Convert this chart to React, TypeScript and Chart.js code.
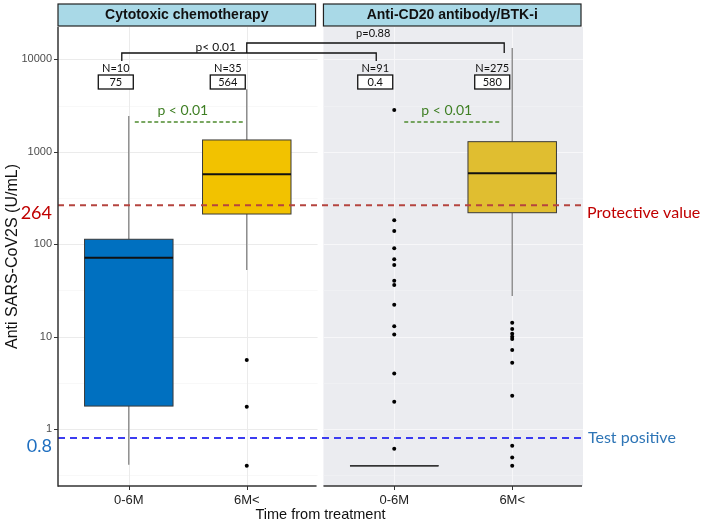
import React, { useEffect, useRef } from "react";
import { Chart, registerables } from "chart.js";

Chart.register(...registerables);

// ---------- data ----------
const PANELS = ["Cytotoxic chemotherapy", "Anti-CD20 antibody/BTK-i"];
const CATEGORIES = ["0-6M", "6M<"];
const Y_TICKS = [1, 10, 100, 1000, 10000];
const Y_MIN = 0.2415;
const Y_MAX = 22400;

// group order: chemo 0-6M, chemo 6M<, anti-CD20 0-6M, anti-CD20 6M<
const WHISKER_LOW = [0.41, 52.6, 0.4, 27.5];
const Q1 = [1.77, 212, 0.4, 219];
const MEDIAN = [71.4, 571, 0.4, 585];
const Q3 = [113, 1342, 0.4, 1286];
const WHISKER_HIGH = [2440, 4750, 0.4, 13300];

const OUTLIERS_CHEMO_EARLY: number[] = [];
const OUTLIERS_CHEMO_LATE = [5.58, 1.74, 0.4];
const OUTLIERS_CD20_EARLY = [2830, 181, 139, 90.3, 68.7, 59.6, 40.3, 36.2, 22.1, 12.9, 10.5, 3.99, 1.97, 0.61];
const OUTLIERS_CD20_LATE = [14.1, 12.1, 10.7, 9.97, 9.42, 7.16, 5.22, 2.29, 0.66, 0.49, 0.4];

const N_LABELS = ["N=10", "N=35", "N=91", "N=275"];
const MEDIAN_LABELS = ["75", "564", "0.4", "580"];
const BETWEEN_P = ["p< 0.01", "p=0.88"];
const WITHIN_P = ["p < 0.01", "p < 0.01"];
const PROTECTIVE_VALUE = 264;
const TEST_POSITIVE = 0.8;
const PROTECTIVE_TEXT = "Protective value";
const TEST_TEXT = "Test positive";

// ---------- styling ----------
const BOX_COLORS = ["#0070C0", "#F2C200", "#0070C0", "#E0BE30"];
const PANEL_SPAN = 2.25;
const groupX = (i: number) => Math.floor(i / 2) * PANEL_SPAN + (i % 2) + 1;
const AXIS_FONT = "'Liberation Sans', Arial, sans-serif";
const NOTE_FONT = "Lato, 'Open Sans', sans-serif";

const OUTLIER_SETS = [OUTLIERS_CHEMO_EARLY, OUTLIERS_CHEMO_LATE, OUTLIERS_CD20_EARLY, OUTLIERS_CD20_LATE];

const boxPlugin = {
  id: "facetBoxes",
  beforeDraw(chart: any) {
    const { ctx, chartArea, scales } = chart;
    const { top, bottom } = chartArea;
    const x = scales.x;
    const y = scales.y;
    ctx.save();
    for (let p = 0; p < 2; p++) {
      const x0 = x.getPixelForValue(p * PANEL_SPAN + 0.4);
      const x1 = x.getPixelForValue(p * PANEL_SPAN + 2.6);
      ctx.fillStyle = p === 0 ? "#FFFFFF" : "#EBECF0";
      ctx.fillRect(x0, top, x1 - x0, bottom - top);
      const gridMajor = p === 0 ? "#EBEBEB" : "#F7F7F9";
      const gridMinor = p === 0 ? "#F3F3F3" : "#F2F3F5";
      ctx.lineWidth = 0.6;
      ctx.strokeStyle = gridMinor;
      for (let k = -1; k <= 4; k++) {
        const v = Math.pow(10, k + 0.5);
        if (v < Y_MIN || v > Y_MAX) continue;
        const py = Math.round(y.getPixelForValue(v)) + 0.5;
        ctx.beginPath();
        ctx.moveTo(x0, py);
        ctx.lineTo(x1, py);
        ctx.stroke();
      }
      ctx.lineWidth = 1;
      ctx.strokeStyle = gridMajor;
      Y_TICKS.forEach((v) => {
        const py = Math.round(y.getPixelForValue(v)) + 0.5;
        ctx.beginPath();
        ctx.moveTo(x0, py);
        ctx.lineTo(x1, py);
        ctx.stroke();
      });
      for (let c = 0; c < 2; c++) {
        const px = Math.round(x.getPixelForValue(groupX(p * 2 + c))) + 0.5;
        ctx.beginPath();
        ctx.moveTo(px, top);
        ctx.lineTo(px, bottom);
        ctx.stroke();
      }
    }
    ctx.restore();
  },
  beforeDatasetsDraw(chart: any) {
    const { ctx, scales } = chart;
    const x = scales.x;
    const y = scales.y;
    ctx.save();
    for (let i = 0; i < 4; i++) {
      const cx = x.getPixelForValue(groupX(i));
      const half = x.getPixelForValue(groupX(i) + 0.375) - cx;
      const yq1 = y.getPixelForValue(Q1[i]);
      const yq3 = y.getPixelForValue(Q3[i]);
      const ymed = y.getPixelForValue(MEDIAN[i]);
      const ylo = y.getPixelForValue(WHISKER_LOW[i]);
      const yhi = y.getPixelForValue(WHISKER_HIGH[i]);
      ctx.strokeStyle = "#7A7A7A";
      ctx.lineWidth = 1.2;
      ctx.beginPath();
      ctx.moveTo(cx, yhi);
      ctx.lineTo(cx, yq3);
      ctx.moveTo(cx, yq1);
      ctx.lineTo(cx, ylo);
      ctx.stroke();
      ctx.fillStyle = BOX_COLORS[i];
      ctx.fillRect(cx - half, yq3, half * 2, yq1 - yq3);
      ctx.strokeStyle = "#3A3A3A";
      ctx.lineWidth = 1;
      ctx.strokeRect(cx - half, yq3, half * 2, yq1 - yq3);
      ctx.strokeStyle = i === 2 ? "#333333" : "#111111";
      ctx.lineWidth = i === 2 ? 1.3 : 2;
      ctx.beginPath();
      ctx.moveTo(cx - half, ymed);
      ctx.lineTo(cx + half, ymed);
      ctx.stroke();
    }
    ctx.restore();
  },
  afterDatasetsDraw(chart: any) {
    const { ctx, chartArea, scales } = chart;
    const y = scales.y;
    ctx.save();
    ctx.lineWidth = 2;
    ctx.setLineDash([6, 5]);
    ctx.strokeStyle = "#B5443F";
    let py = y.getPixelForValue(PROTECTIVE_VALUE);
    ctx.beginPath();
    ctx.moveTo(chartArea.left, py);
    ctx.lineTo(chartArea.right, py);
    ctx.stroke();
    ctx.strokeStyle = "#3C3CF0";
    ctx.setLineDash([7, 5]);
    py = y.getPixelForValue(TEST_POSITIVE);
    ctx.beginPath();
    ctx.moveTo(chartArea.left, py);
    ctx.lineTo(chartArea.right, py);
    ctx.stroke();
    ctx.restore();
  },
  afterDraw(chart: any) {
    const { ctx, chartArea, scales } = chart;
    const { top, bottom, left } = chartArea;
    const x = scales.x;
    const y = scales.y;
    const gx = (i: number) => x.getPixelForValue(groupX(i));
    ctx.save();

    // axis lines + ticks
    ctx.strokeStyle = "#333333";
    ctx.lineWidth = 1.5;
    ctx.beginPath();
    ctx.moveTo(left, top);
    ctx.lineTo(left, bottom + 0.75);
    ctx.stroke();
    for (let p = 0; p < 2; p++) {
      const x0 = x.getPixelForValue(p * PANEL_SPAN + 0.4);
      const x1 = x.getPixelForValue(p * PANEL_SPAN + 2.6);
      ctx.beginPath();
      ctx.moveTo(x0, bottom);
      ctx.lineTo(x1 - 1, bottom);
      ctx.stroke();
    }
    ctx.lineWidth = 1;
    Y_TICKS.forEach((v) => {
      const ty = Math.round(y.getPixelForValue(v)) + 0.5;
      ctx.beginPath();
      ctx.moveTo(left - 4, ty);
      ctx.lineTo(left, ty);
      ctx.stroke();
    });
    for (let i = 0; i < 4; i++) {
      const tx = Math.round(gx(i)) + 0.5;
      ctx.beginPath();
      ctx.moveTo(tx, bottom);
      ctx.lineTo(tx, bottom + 4);
      ctx.stroke();
    }

    // facet strips
    for (let p = 0; p < 2; p++) {
      const x0 = x.getPixelForValue(p * PANEL_SPAN + 0.4);
      const x1 = x.getPixelForValue(p * PANEL_SPAN + 2.6) - 2;
      ctx.fillStyle = "#A9D9E7";
      ctx.fillRect(x0, top - 23, x1 - x0, 22);
      ctx.strokeStyle = "#222222";
      ctx.lineWidth = 1.2;
      ctx.strokeRect(x0, top - 23, x1 - x0, 22);
      ctx.fillStyle = "#111111";
      ctx.font = `bold 14px ${AXIS_FONT}`;
      ctx.textAlign = "center";
      ctx.textBaseline = "middle";
      ctx.fillText(PANELS[p], (x0 + x1) / 2, top - 12);
    }

    // N labels and median boxes
    const shift = [-13, -19, -19, -20];
    for (let i = 0; i < 4; i++) {
      const cx = gx(i) + shift[i];
      ctx.fillStyle = "#111111";
      ctx.font = `11px ${NOTE_FONT}`;
      ctx.textAlign = "center";
      ctx.textBaseline = "middle";
      ctx.fillText(N_LABELS[i], cx, top + 41);
      ctx.fillStyle = "#FFFFFF";
      ctx.fillRect(cx - 17.5, top + 48, 35, 14);
      ctx.strokeStyle = "#111111";
      ctx.lineWidth = 1.3;
      ctx.strokeRect(cx - 17.5, top + 48, 35, 14);
      ctx.fillStyle = "#111111";
      ctx.fillText(MEDIAN_LABELS[i], cx, top + 55.5);
    }

    // between-treatment brackets
    ctx.strokeStyle = "#111111";
    ctx.lineWidth = 1.3;
    const b1a = gx(0) - 7;
    const b1b = gx(2) - 18;
    ctx.beginPath();
    ctx.moveTo(b1a, top + 34);
    ctx.lineTo(b1a, top + 26);
    ctx.lineTo(b1b, top + 26);
    ctx.lineTo(b1b, top + 34);
    ctx.stroke();
    const b2a = gx(1);
    const b2b = gx(3) - 8;
    ctx.beginPath();
    ctx.moveTo(b2a, top + 26);
    ctx.lineTo(b2a, top + 16);
    ctx.lineTo(b2b, top + 16);
    ctx.lineTo(b2b, top + 26);
    ctx.stroke();
    ctx.fillStyle = "#111111";
    ctx.font = `12px ${NOTE_FONT}`;
    ctx.textAlign = "center";
    ctx.textBaseline = "middle";
    ctx.fillText(BETWEEN_P[0], (gx(0) + gx(1)) / 2 + 28, top + 20);
    ctx.font = `11px ${NOTE_FONT}`;
    ctx.fillText(BETWEEN_P[1], gx(2) - 21, top + 6);

    // within-treatment comparisons
    const gy = top + 95;
    for (let p = 0; p < 2; p++) {
      const xa = gx(p * 2) + (p === 0 ? 6 : 10);
      const xb = gx(p * 2 + 1) - (p === 0 ? 4 : 11);
      ctx.strokeStyle = "#4E8A2E";
      ctx.lineWidth = 1.5;
      ctx.setLineDash([4, 2.5]);
      ctx.beginPath();
      ctx.moveTo(xa, gy);
      ctx.lineTo(xb, gy);
      ctx.stroke();
      ctx.setLineDash([]);
      ctx.fillStyle = "#3F7F24";
      ctx.font = `14px ${NOTE_FONT}`;
      ctx.textAlign = "center";
      ctx.textBaseline = "middle";
      ctx.fillText(WITHIN_P[p], (xa + xb) / 2 - 6, gy - 12);
    }

    // reference-line labels
    const yProt = y.getPixelForValue(PROTECTIVE_VALUE);
    const yTest = y.getPixelForValue(TEST_POSITIVE);
    ctx.textBaseline = "middle";
    ctx.font = `18px ${NOTE_FONT}`;
    ctx.textAlign = "right";
    ctx.fillStyle = "#C00000";
    ctx.fillText(String(PROTECTIVE_VALUE), 52, yProt + 8);
    ctx.fillStyle = "#1F6FC0";
    ctx.fillText(String(TEST_POSITIVE), 52, yTest + 8);
    ctx.font = `16px ${NOTE_FONT}`;
    ctx.textAlign = "left";
    ctx.fillStyle = "#C00000";
    ctx.fillText(PROTECTIVE_TEXT, chartArea.right + 4, yProt + 8);
    ctx.fillStyle = "#2E75B6";
    ctx.fillText(TEST_TEXT, chartArea.right + 5, yTest);

    ctx.restore();
  },
};

export default function App() {
  const ref = useRef<HTMLCanvasElement | null>(null);
  useEffect(() => {
    if (!ref.current) return;
    const datasets = OUTLIER_SETS.map((vals, i) => ({
      label: `outliers ${i}`,
      data: vals.map((v) => ({ x: groupX(i), y: v })),
      pointRadius: 2,
      pointBackgroundColor: "#000000",
      pointBorderWidth: 0,
      showLine: false,
    }));
    const chart = new Chart(ref.current, {
      type: "scatter",
      data: { datasets },
      options: {
        animation: false,
        responsive: false,
        devicePixelRatio: 1,
        layout: { padding: { top: 27, right: 125, bottom: 0, left: 0 } },
        plugins: { legend: { display: false }, tooltip: { enabled: false } },
        scales: {
          x: {
            type: "linear",
            min: 0.4,
            max: 4.85,
            bounds: "data",
            border: { display: false },
            grid: { display: false, drawTicks: true, tickLength: 4 },
            afterBuildTicks: (scale: any) => {
              scale.ticks = [0, 1, 2, 3].map((i) => ({ value: groupX(i) }));
            },
            afterFit: (scale: any) => {
              scale.height = 40;
            },
            ticks: {
              autoSkip: false,
              maxRotation: 0,
              padding: 3,
              color: "#222222",
              font: { family: AXIS_FONT, size: 13 },
              callback: (_v: any, idx: number) => CATEGORIES[idx % 2],
            },
            title: {
              display: true,
              text: "Time from treatment",
              color: "#111111",
              font: { family: AXIS_FONT, size: 14.5 },
              padding: { top: 0, bottom: 2 },
            },
          },
          y: {
            type: "logarithmic",
            min: Y_MIN,
            max: Y_MAX,
            bounds: "data",
            border: { display: false },
            grid: { display: false, drawTicks: true, tickLength: 4 },
            afterBuildTicks: (scale: any) => {
              scale.ticks = Y_TICKS.map((v) => ({ value: v }));
            },
            afterFit: (scale: any) => {
              scale.width = 58;
            },
            ticks: {
              autoSkip: false,
              padding: 2,
              color: "#4D4D4D",
              font: { family: AXIS_FONT, size: 11 },
              callback: (v: any) => String(v),
            },
            title: {
              display: true,
              text: "Anti SARS-CoV2S (U/mL)",
              color: "#111111",
              font: { family: AXIS_FONT, size: 16 },
              padding: { top: 3, bottom: 0 },
            },
          },
        },
      },
      plugins: [boxPlugin],
    } as any);
    return () => chart.destroy();
  }, []);
  return (
    <div style={{ position: "fixed", left: 0, top: 0, width: 708, height: 526, background: "#FFFFFF" }}>
      <canvas ref={ref} width={708} height={526} style={{ display: "block", width: 708, height: 526 }} />
    </div>
  );
}
